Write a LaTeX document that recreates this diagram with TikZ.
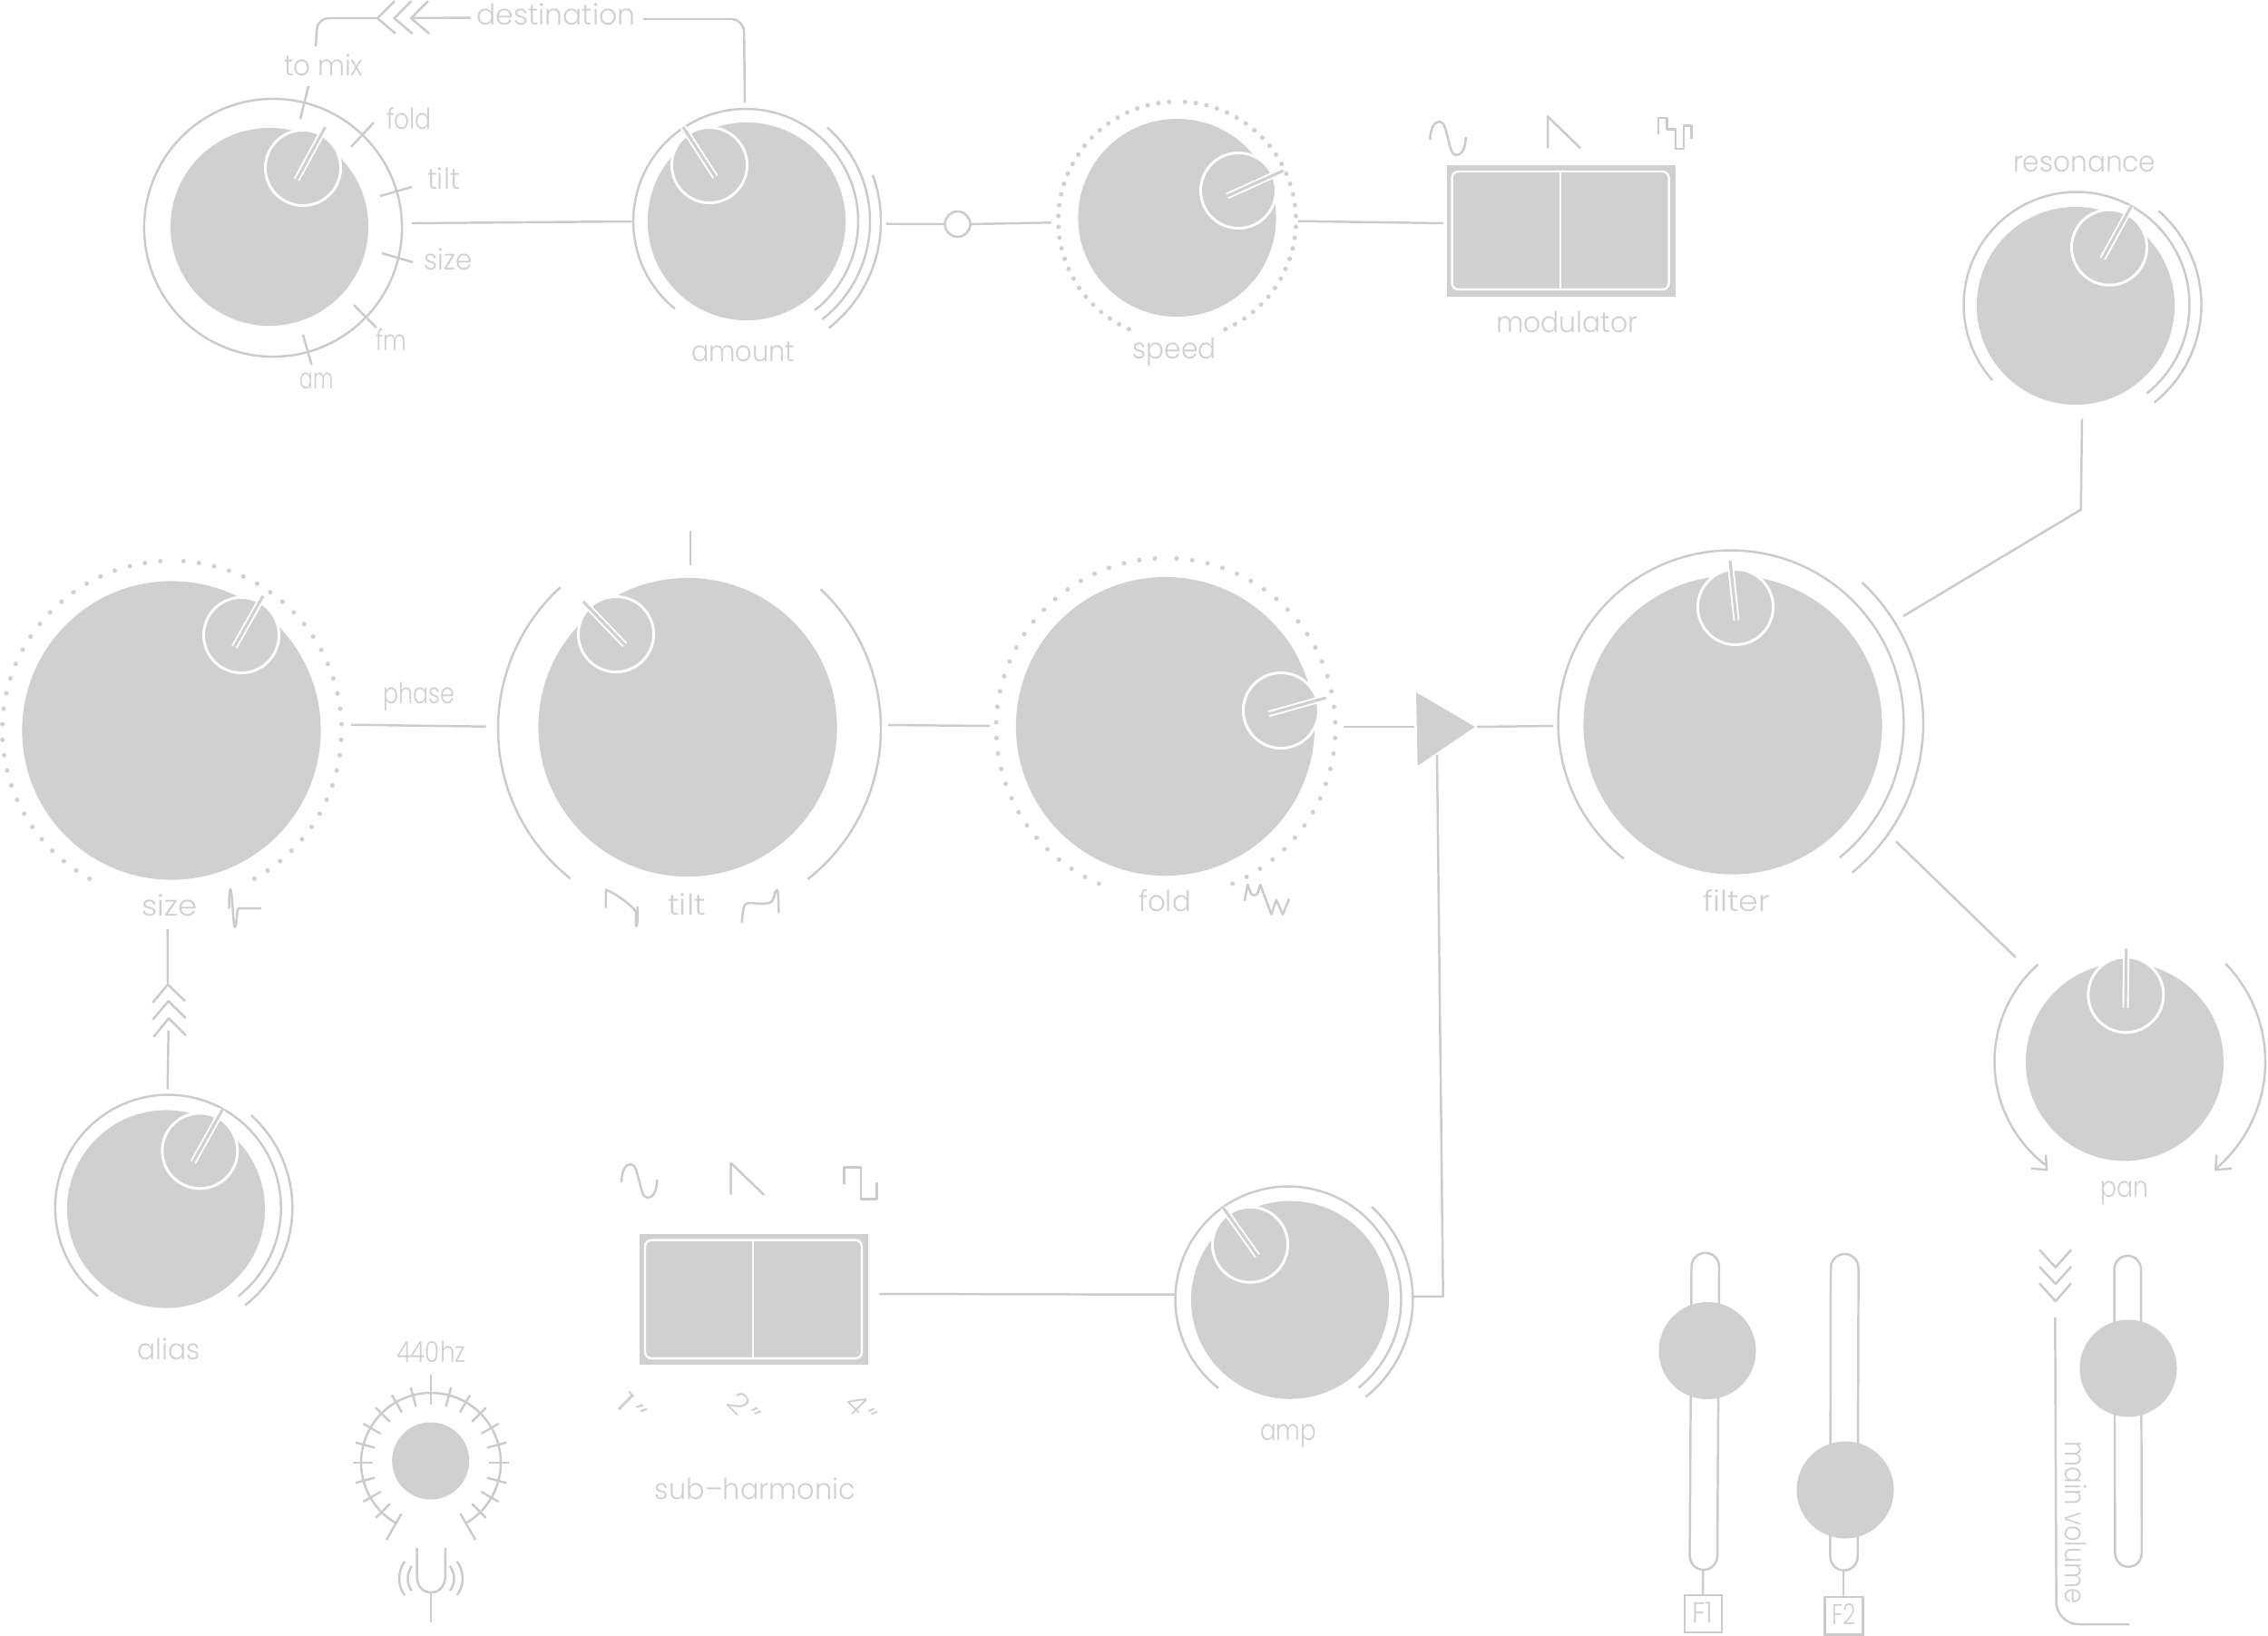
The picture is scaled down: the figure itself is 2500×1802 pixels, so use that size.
\documentclass[tikz,border=0pt]{standalone}
\usepackage{graphicx}
\usepackage{fontspec}
\setmainfont{Poppins}[UprightFont=* Light]
\definecolor{fillg}{HTML}{D0D0D0}
\definecolor{lineg}{HTML}{CBCBCB}
\definecolor{textg}{HTML}{D0D0D0}
\newdimen\pxu \pxu=0.01cm
\tikzset{
  x=0.01cm,y=-0.01cm,
  ln/.style={draw=lineg,line width=0.7pt,line join=round},
  bigknob/.style={circle,fill=fillg,draw=none,minimum size=3.29cm,inner sep=0pt,outer sep=0pt},
  midknob/.style={circle,fill=fillg,draw=none,minimum size=2.18cm,inner sep=0pt,outer sep=0pt},
  faderknob/.style={circle,fill=fillg,draw=none,minimum size=1.07cm,inner sep=0pt,outer sep=0pt},
  smallknob/.style={circle,fill=fillg,draw=white,line width=0.85pt,minimum size=0.83cm,inner sep=0pt,outer sep=0pt},
  ptrout/.style={draw=white,line width=2pt},
  ptrin/.style={draw=fillg,line width=0.9pt},
  lab/.style={text=textg,font=\fontsize{9}{11}\selectfont,inner sep=0pt,outer sep=0pt,anchor=base},
  panel/.style={rectangle,fill=fillg,draw=none,inner sep=0pt,outer sep=0pt},
  panelin/.style={draw=white,line width=0.7pt,rounded corners=2pt},
  tickbox/.style={rectangle,draw=lineg,line width=0.7pt,inner sep=0pt,outer sep=0pt},
}
\newcommand\knob[6]{%
  \node[#1] (#2) at (#3) {};
  \node[smallknob] (#2s) at (#4) {};
  \coordinate (#2pa) at (#5);
  \coordinate (#2pb) at (#6);
  \draw[ptrout] (#2pa) -- (#2pb);
  \draw[ptrin] (#2pa) -- (#2pb);
}
\newcommand\ringarc[5]{%
  \draw[ln] plot[domain=#4:#5,samples=90,variable=\t] ({#1+#3*cos(\t)},{#2-#3*sin(\t)});
}
\newcommand\dotring[6]{%
  \foreach \k in {0,...,#6}{%
    \pgfmathsetmacro\aL{90+#5+\k*#4}
    \pgfmathsetmacro\aR{90-#5-\k*#4}
    \fill[fillg] ({#1+#3*cos(\aL)},{#2-#3*sin(\aL)}) circle[radius=0.72pt];
    \fill[fillg] ({#1+#3*cos(\aR)},{#2-#3*sin(\aR)}) circle[radius=0.72pt];
  }%
}
\newcommand\wire[3]{%
  \coordinate (#1a) at (#2);
  \coordinate (#1b) at (#3);
  \draw[ln] (#1a) -- (#1b);
}
\newcommand\lbl[5][]{%
  \node[lab,#1] (#2) at (#3) {\resizebox{#4\pxu}{\height}{#5}};
}
\newcommand\sinewave[2]{%
  \draw[ln,shift={(#1,#2)}] (0,20) .. controls (0,7) and (5,0) .. (10,0)
    .. controls (16,0) and (17,10) .. (19.5,18)
    .. controls (22,27) and (23,37) .. (29,37)
    .. controls (35,37) and (39,29) .. (39.3,17);
}
% fader track: top-left x, top-right x, bottom-right x, bottom-left x, top y, bottom y
\newcommand\track[6]{%
  \draw[ln] (#1,#5+15.5) .. controls (#1,#5+7) and ({(#1+#2)/2-8.5},#5) .. ({(#1+#2)/2},#5)
    .. controls ({(#1+#2)/2+8.5},#5) and (#2,#5+7) .. (#2,#5+15.5)
    -- (#3,#6-15.5) .. controls (#3,#6-7) and ({(#3+#4)/2+8.5},#6) .. ({(#3+#4)/2},#6)
    .. controls ({(#3+#4)/2-8.5},#6) and (#4,#6-7) .. (#4,#6-15.5) -- cycle;
}
\begin{document}
\begin{tikzpicture}
\fill[white] (0,0) rectangle (2500,1802);
\useasboundingbox (0,0) rectangle (2500,1802);

%% ---- MIX KNOB
\draw[ln] (301,251) circle[radius=1.42cm];
\knob{midknob}{mix}{297,250}{334,185}{327,198}{358.5,140}
\wire{tmix}{340,95}{331,131}
\wire{tfold}{412,135}{387,162}
\wire{ttilt}{454,206}{419,216}
\wire{tsize}{455,289}{421,279}
\wire{tfm}{415,361}{390,336}
\wire{tam}{343.5,402}{334,369}
\lbl{lToMix}{357,83}{87}{to\hspace{0.25em}mix}
\lbl{lFoldA}{451,142}{50}{fold}
\lbl{lTiltA}{489,208}{36}{tilt}
\lbl{lSizeA}{494,297}{53}{size}
\lbl{lFm}{431,386}{34}{fm}
\lbl{lAm}{349,428}{37}{am}

%% ---- DESTINATION
\coordinate (destA) at (348,51);
\coordinate (destB) at (350,20);
\coordinate (chevA) at (416,20);
\draw[ln,rounded corners=3.5pt] (destA) -- (destB) -- (chevA);
\draw[ln] (435,1) -- (416,20) -- (436,37);
\draw[ln] (453.5,1) -- (434.5,20) -- (454.5,37);
\draw[ln] (472,1) -- (453,20) -- (473,37);
\wire{dw}{453,20}{519,19.5}
\lbl{lDest}{613,27.3}{175}{destination}
\coordinate (destC) at (708.6,21);
\coordinate (destD) at (820,21);
\coordinate (destE) at (821,113);
\draw[ln,rounded corners=4pt] (destC) -- (destD) -- (destE);

%% ---- AMOUNT
\ringarc{822}{244}{124}{231}{-52}
\ringarc{822}{244}{137}{49}{-52}
\ringarc{822}{244}{149}{20}{-52}
\knob{midknob}{amt}{823,244}{782,182}{788.5,195}{753,140}
\lbl{lAmount}{819,398}{114}{amount}
\wire{w1}{454,246}{696.6,244}

%% ---- junction + SPEED
\node[circle,draw=lineg,line width=0.7pt,fill=white,minimum size=0.28cm,inner sep=0pt,outer sep=0pt] (junc) at (1055.5,247) {};
\wire{w2}{976.7,246.7}{1041.5,247}
\wire{w3}{1069.5,247}{1158.5,245.3}
\dotring{1297.5}{243}{131}{5.25}{3.8}{29}
\knob{midknob}{spd}{1297.5,240}{1365,210}{1352.6,216}{1414.6,188}
\lbl{lSpeed}{1294.7,395}{92}{speed}
\wire{w4}{1431,243.7}{1590.8,246}

%% ---- MODULATOR
\node[panel,minimum width=2.52cm,minimum height=1.45cm] (modbox) at (1720.8,254.5) {};
\draw[panelin] (1600.5,189) rectangle (1839.5,319);
\coordinate (modT) at (1720,189);
\coordinate (modB) at (1720,319);
\draw[draw=white,line width=0.7pt] (modT) -- (modB);
\sinewave{1576.5}{134}
\draw[ln] (1706,163.3) -- (1706,128.3) -- (1742,163.3);
\draw[ln] (1828,148) -- (1828,130) -- (1837.7,130) -- (1837.7,142.7) -- (1847,142.7) -- (1847,164) -- (1856,164) -- (1856,138.7) -- (1864.7,138.7) -- (1864.7,153);
\lbl{lMod}{1727,366}{156}{modulator}

%% ---- RESONANCE
\ringarc{2289}{336}{124.5}{221.7}{-51.6}
\ringarc{2289}{336}{137.5}{48.9}{-51.5}
\knob{midknob}{res}{2288,337}{2325,272.7}{2317.7,285}{2349.3,227.3}
\lbl{lRes}{2297.7,189.3}{157}{resonance}

%% ---- SIZE
\dotring{189.5}{805}{187}{5.25}{3.9}{28}
\knob{bigknob}{sz}{189,805}{266,700}{258.3,713}{290,656.7}
\lbl{lSizeB}{187,1009.3}{61}{size}
\draw[ln] (252.5,1001.7) .. controls (252.5,990) and (253,980) .. (254,980)
  .. controls (256,980) and (257,1021.7) .. (258.9,1021.7)
  .. controls (261,1021.7) and (261,1001) .. (262.8,1001) -- (288,1001);
\lbl{lPhase}{462,775.7}{79}{phase}
\wire{w5}{387,798.7}{535.7,800.7}

%% ---- TILT
\ringarc{760}{803}{211}{132.4}{231.5}
\ringarc{760}{803}{211}{46.8}{-51.8}
\knob{bigknob}{tlt}{758,801.5}{679,699}{688.8,710.7}{642.9,663}
\wire{w6}{761,585}{761,622.7}
\lbl{lTiltB}{757,1008}{41.5}{tilt}
\draw[ln] (667.7,1000.7) -- (668,980.7) .. controls (680,985) and (699,1000) .. (701,1005)
  .. controls (701.5,1012) and (700,1020.7) .. (701.5,1020.7) .. controls (703,1020.7) and (702.5,1010) .. (702.8,999);
\draw[ln] (817.6,1016.7) .. controls (819,1005) and (819,995) .. (825,995)
  .. controls (832,995) and (840,997) .. (848,995) .. controls (855,993) and (853,981) .. (856.5,980.7)
  .. controls (858,981) and (858,995) .. (858.4,1006);
\wire{w7}{979,799}{1091,800}

%% ---- FOLD
\dotring{1285}{802}{187}{5.28}{3.7}{29}
\knob{bigknob}{fld}{1284.5,800.5}{1412,783}{1398.5,786.7}{1461.6,769}
\lbl{lFoldB}{1284,1004}{57.5}{fold}
\draw[ln] (1371.8,992.7) -- (1375.3,975) -- (1379,985) -- (1382.3,986.7) -- (1386,985) -- (1389.3,975) -- (1401.3,1007.7) -- (1406.9,991.7) -- (1413.9,1007.7) -- (1420.9,990.7);
\wire{w8}{1480.5,801}{1559,801}

%% ---- TRIANGLE
\coordinate (triA) at (1561,763);
\coordinate (triB) at (1562.6,844);
\coordinate (triC) at (1625.7,801);
\fill[fillg] (triA) -- (triB) -- (triC) -- cycle;
\wire{w9}{1628,801}{1712,800}

%% ---- FILTER
\ringarc{1908}{797}{190.5}{231.6}{-51}
\ringarc{1908}{797}{212}{47}{-51}
\knob{bigknob}{flt}{1910,799}{1913,669}{1914,683.7}{1907,618}
\lbl{lFilter}{1914,1004}{73.7}{filter}
\coordinate (fr1) at (2098,679);
\coordinate (fr2) at (2293.7,561.7);
\coordinate (fr3) at (2295,461.7);
\draw[ln] (fr1) -- (fr2) -- (fr3);
\wire{w10}{2090,927.3}{2221.7,1055}

%% ---- PAN
\ringarc{2342}{1170}{143.5}{131.8}{232.5}
\ringarc{2342}{1170}{155}{44.2}{-50}
\draw[ln] (2239,1287.7) -- (2256,1289.3) -- (2255,1272.7);
\draw[ln] (2460,1287.7) -- (2442.3,1289.3) -- (2443.3,1272.7);
\knob{midknob}{pan}{2342,1170.3}{2343.3,1096.3}{2343,1110.7}{2343.7,1045.3}
\lbl{lPan}{2341.7,1319.3}{53}{pan}

%% ---- ALIAS
\wire{w11}{184.7,1024}{185,1085}
\draw[ln] (168.3,1105) -- (185,1085) -- (204,1103.3);
\draw[ln] (168.3,1123.7) -- (185.7,1103.3) -- (204.7,1122);
\draw[ln] (169.3,1142.7) -- (186,1122.3) -- (205,1141);
\wire{w12}{185.7,1135.7}{184.7,1200.7}
\ringarc{185.3}{1331}{124.5}{231.5}{-51.6}
\ringarc{185.3}{1331}{137}{48.2}{-51.7}
\knob{midknob}{als}{183,1332.5}{220.3,1268.3}{213,1280.7}{245.3,1222.7}
\lbl{lAlias}{186,1498.3}{69}{alias}

%% ---- SUB HARMONIC
\node[panel,minimum width=2.52cm,minimum height=1.44cm] (subbox) at (830.8,1432) {};
\draw[panelin] (711,1366.7) rectangle (950,1497);
\coordinate (subT) at (830,1366.7);
\coordinate (subB) at (830,1497);
\draw[draw=white,line width=0.7pt] (subT) -- (subB);
\sinewave{685}{1283}
\draw[ln] (805.7,1316.7) -- (805.7,1281.7) -- (842.3,1317);
\draw[ln] (930.7,1305) -- (930.7,1286.7) -- (949,1286.7) -- (949,1321.7) -- (966.7,1321.7) -- (966.7,1303);
\lbl[anchor=center,rotate=-45]{lOne}{697,1551.7}{32}{1\kern1pt"}
\lbl[anchor=center,rotate=-45]{lTwo}{820,1551.7}{36}{2\kern1pt"}
\lbl[anchor=center,rotate=-45]{lFour}{949,1552.7}{34}{4\kern1pt"}
\lbl{lSub}{832.4,1652.7}{221}{sub–harmonic}
\wire{w13}{969.3,1426}{1294.3,1426.7}

%% ---- AMP
\ringarc{1420}{1432}{124.5}{231.8}{-51.5}
\ringarc{1420}{1432}{137.3}{48}{-51.6}
\knob{midknob}{amp}{1422,1432.7}{1378,1371.7}{1386,1384}{1348.3,1331}
\lbl{lAmp}{1420,1587.3}{62}{amp}
\coordinate (ao1) at (1557.7,1428.7);
\coordinate (ao2) at (1590.7,1428.7);
\coordinate (ao3) at (1584,831.7);
\draw[ln] (ao1) -- (ao2) -- (ao3);

%% ---- 440Hz
\ringarc{475}{1612}{77}{240}{-60}
\foreach \a in {-45,-30,...,225}{%
  \pgfmathsetmacro\ro{\a==90 ? 97 : 86}
  \draw[ln] ({475+64*cos(\a)},{1612-64*sin(\a)}) -- ({475+\ro*cos(\a)},{1612-\ro*sin(\a)});
}
\draw[ln] ({475+65*cos(-60)},{1612-65*sin(-60)}) -- ({475+98*cos(-60)},{1612-98*sin(-60)});
\draw[ln] ({475+65*cos(240)},{1612-65*sin(240)}) -- ({475+98*cos(240)},{1612-98*sin(240)});
\node[circle,fill=fillg,draw=none,minimum size=0.85cm,inner sep=0pt,outer sep=0pt] (tune) at (474.7,1610) {};
\lbl{l440}{475,1501.7}{76}{440hz}
\draw[ln] (459.6,1706) -- (459.6,1736.7) .. controls (459.6,1748) and (466,1755) .. (475,1755)
  .. controls (484,1755) and (490.9,1748) .. (490.9,1736.7) -- (490.9,1706);
\wire{w14}{475,1755}{475,1788}
\draw[ln] (453.8,1725.7) .. controls (448,1735) and (448,1745) .. (453.8,1753);
\draw[ln] (446,1720.7) .. controls (438,1733) and (438,1747) .. (446,1758);
\draw[ln] (496,1725.7) .. controls (502,1735) and (502,1745) .. (496,1753);
\draw[ln] (503.8,1720.7) .. controls (512,1733) and (512,1747) .. (503.8,1758);

%% ---- FADERS
\track{1864.5}{1895}{1893}{1862.6}{1380.7}{1730}
\node[faderknob] (fk1) at (1882,1488.5) {};
\track{2018}{2048.6}{2047.7}{2017.4}{1382}{1730.7}
\node[faderknob] (fk2) at (2034,1642) {};
\track{2330.5}{2360}{2360.8}{2331.4}{1384}{1726.7}
\node[faderknob] (fk3) at (2346,1508) {};
\node[tickbox,minimum width=0.41cm,minimum height=0.41cm] (boxF1) at (1877.3,1778.5) {};
\node[tickbox,minimum width=0.42cm,minimum height=0.415cm] (boxF2) at (2032.5,1780.5) {};
\wire{w15}{1877.3,1730}{1877,1758}
\wire{w16}{2032,1730.7}{2032,1759.7}
\lbl{lF1}{1877,1788.3}{23}{F1}
\lbl{lF2}{2032.5,1790.7}{26.6}{F2}
\draw[ln] (2248,1377.3) -- (2265.8,1396.7) -- (2283,1377.3);
\draw[ln] (2248,1396) -- (2265.8,1415) -- (2283,1396);
\draw[ln] (2248,1414.3) -- (2265.8,1434) -- (2283,1414.3);
\coordinate (mvA) at (2265.3,1451.7);
\coordinate (mvB) at (2266.7,1790);
\coordinate (mvC) at (2347,1790);
\draw[ln,rounded corners=7pt] (mvA) -- (mvB) -- (mvC);
\lbl[rotate=-90]{lMain}{2276,1678}{179}{main volume}
\end{tikzpicture}
\end{document}
